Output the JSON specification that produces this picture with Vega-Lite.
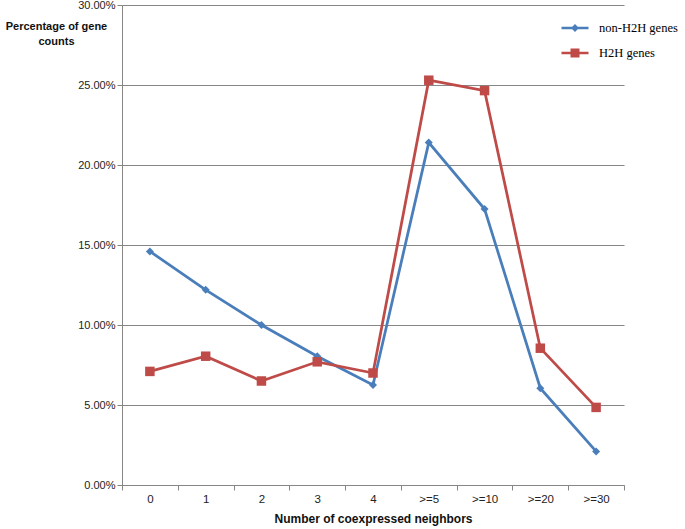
{
  "$schema": "https://vega.github.io/schema/vega-lite/v6.json",
  "width": 502,
  "height": 480,
  "autosize": "none",
  "padding": {"left": 122, "top": 5, "right": 61, "bottom": 44},
  "background": "white",
  "config": {"view": {"stroke": null}},
  "data": {
    "values": [
      {"cat": "0", "series": "non-H2H genes", "pct": 0.146},
      {"cat": "1", "series": "non-H2H genes", "pct": 0.122},
      {"cat": "2", "series": "non-H2H genes", "pct": 0.100},
      {"cat": "3", "series": "non-H2H genes", "pct": 0.0805},
      {"cat": "4", "series": "non-H2H genes", "pct": 0.0625},
      {"cat": ">=5", "series": "non-H2H genes", "pct": 0.214},
      {"cat": ">=10", "series": "non-H2H genes", "pct": 0.1725},
      {"cat": ">=20", "series": "non-H2H genes", "pct": 0.0605},
      {"cat": ">=30", "series": "non-H2H genes", "pct": 0.021},
      {"cat": "0", "series": "H2H genes", "pct": 0.071},
      {"cat": "1", "series": "H2H genes", "pct": 0.0805},
      {"cat": "2", "series": "H2H genes", "pct": 0.065},
      {"cat": "3", "series": "H2H genes", "pct": 0.077},
      {"cat": "4", "series": "H2H genes", "pct": 0.070},
      {"cat": ">=5", "series": "H2H genes", "pct": 0.253},
      {"cat": ">=10", "series": "H2H genes", "pct": 0.2465},
      {"cat": ">=20", "series": "H2H genes", "pct": 0.0855},
      {"cat": ">=30", "series": "H2H genes", "pct": 0.0485}
    ]
  },
  "encoding": {
    "x": {
      "field": "cat",
      "type": "nominal",
      "sort": ["0", "1", "2", "3", "4", ">=5", ">=10", ">=20", ">=30"],
      "scale": {"paddingInner": 0, "paddingOuter": 0},
      "axis": {
        "title": "Number of coexpressed neighbors",
        "titleFont": "Liberation Sans",
        "titleFontWeight": "bold",
        "titleFontSize": 12,
        "titleColor": "#111",
        "titlePadding": 9,
        "labelAngle": 0,
        "labelFont": "Liberation Sans",
        "labelFontSize": 11.5,
        "labelColor": "#222",
        "labelPadding": 3,
        "tickBand": "extent",
        "grid": false,
        "domainColor": "#868686",
        "tickColor": "#868686",
        "tickSize": 5
      }
    },
    "y": {
      "field": "pct",
      "type": "quantitative",
      "scale": {"domain": [0, 0.3]},
      "axis": {
        "values": [0, 0.05, 0.1, 0.15, 0.2, 0.25, 0.3],
        "format": ".2%",
        "labelFont": "Liberation Sans",
        "labelFontSize": 11,
        "labelColor": "#222",
        "labelPadding": 2,
        "tickSize": 5,
        "tickColor": "#868686",
        "domainColor": "#868686",
        "gridColor": "#868686",
        "title": ["Percentage of gene", "counts"],
        "titleFont": "Liberation Sans",
        "titleFontWeight": "bold",
        "titleFontSize": 11,
        "titleColor": "#111",
        "titleAngle": 0,
        "titleAlign": "center",
        "titleBaseline": "top",
        "titleLineHeight": 15,
        "titleX": -66,
        "titleY": 15
      }
    },
    "color": {
      "field": "series",
      "type": "nominal",
      "scale": {"domain": ["non-H2H genes", "H2H genes"], "range": ["#4a7ebb", "#be4b48"]},
      "legend": {
        "orient": "none",
        "legendX": 441,
        "legendY": 11,
        "title": null,
        "symbolSize": 576,
        "symbolOpacity": 1,
        "labelFont": "Liberation Serif",
        "labelFontSize": 12.5,
        "labelColor": "#000",
        "labelOffset": 12,
        "rowPadding": 6,
        "encode": {
          "symbols": {
            "update": {
              "shape": {"signal": "datum.value === 'H2H genes' ? 'M-1.125,-0.104H1.125V0.104H-1.125Z M-0.375,-0.375H0.375V0.375H-0.375Z' : 'M-1.125,-0.104H1.125V0.104H-1.125Z M0,-0.33L0.33,0L0,0.33L-0.33,0Z'"},
              "size": {"value": 576},
              "fill": {"scale": "color", "field": "value"},
              "stroke": {"value": "transparent"},
              "strokeWidth": {"value": 0},
              "opacity": {"value": 1}
            }
          }
        }
      }
    }
  },
  "layer": [
    {"mark": {"type": "line", "strokeWidth": 2.75}},
    {
      "transform": [{"filter": "datum.series === 'non-H2H genes'"}],
      "mark": {"type": "point", "filled": true, "opacity": 1, "shape": "diamond", "size": 64}
    },
    {
      "transform": [{"filter": "datum.series === 'H2H genes'"}],
      "mark": {"type": "point", "filled": true, "opacity": 1, "shape": "square", "size": 90}
    }
  ]
}
